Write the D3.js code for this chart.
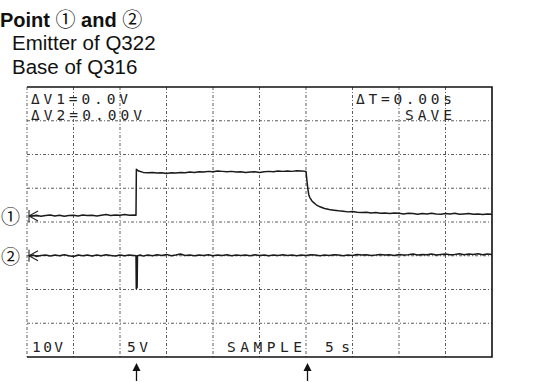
<!DOCTYPE html>
<html>
<head>
<meta charset="utf-8">
<script src="https://cdn.jsdelivr.net/npm/d3@7"></script>
<style>
  html, body { margin: 0; padding: 0; background: #fff; }
  svg { display: block; }
</style>
</head>
<body>
<script>
// ---- Oscilloscope capture: points 1 and 2 (emitter of Q322, base of Q316) ----

// Time base: 10 divisions at 5 s/div
const timeTicks = [0, 5, 10, 15, 20, 25, 30, 35, 40, 45, 50];
// Vertical graticule in divisions
const divTicks = [-4, -3, -2, -1, 0, 1, 2, 3, 4];

// Channel settings (volts per division, ground position in divisions)
const ch1VoltsPerDiv = 10;
const ch2VoltsPerDiv = 5;
const ch1Ground = 0.18;
const ch2Ground = -1.0;

// Channel 1 samples: [time s, volts]
const ch1Samples = [
  [0.3, 0.1], [0.5, 0.0], [1.0, 0.2], [1.5, -0.1], [2.0, 0.1], [2.5, 0.3], [3.0, 0.0], [3.5, 0.2],
  [4.0, -0.1], [4.5, 0.1], [5.0, 0.2], [5.5, 0.0], [6.0, 0.3], [6.5, 0.1], [7.0, 0.2], [7.5, 0.0],
  [8.0, 0.2], [8.5, 0.4], [9.0, 0.1], [9.5, 0.3], [10.0, 0.2], [10.5, 0.4], [11.0, 0.2], [11.5, 0.3],
  [11.72, 0.2], [11.76, 13.8], [12.0, 13.3], [12.5, 12.9], [13.0, 12.8], [13.5, 12.9], [14.0, 12.7],
  [14.5, 12.8], [15.0, 12.6], [15.5, 12.8], [16.0, 12.7], [16.5, 12.9], [17.0, 12.8], [17.5, 13.0],
  [18.0, 12.9], [18.5, 13.1], [19.0, 13.0], [19.5, 13.2], [20.0, 13.1], [20.5, 13.3], [21.0, 13.2],
  [21.5, 13.1], [22.0, 13.2], [22.5, 13.0], [23.0, 13.1], [23.5, 12.9], [24.0, 13.0], [24.5, 13.1],
  [25.0, 12.9], [25.5, 13.1], [26.0, 13.2], [26.5, 13.1], [27.0, 13.3], [27.5, 13.2], [28.0, 13.3],
  [28.5, 13.2], [29.0, 13.4], [29.5, 13.3], [30.0, 13.2], [30.1, 10.5], [30.2, 8.0], [30.3, 6.3],
  [30.4, 5.5], [30.6, 4.6], [30.8, 4.0], [31.1, 3.3], [31.5, 2.7], [32.0, 2.2], [32.5, 1.9],
  [33.0, 1.7], [33.5, 1.5], [34.0, 1.4], [34.5, 1.2], [35.0, 1.3], [35.5, 1.1], [36.0, 1.0],
  [36.5, 1.1], [37.0, 0.9], [37.5, 1.0], [38.0, 0.8], [38.5, 0.9], [39.0, 0.7], [39.5, 0.9],
  [40.0, 0.8], [40.5, 0.6], [41.0, 0.8], [41.5, 0.7], [42.0, 0.5], [42.5, 0.7], [43.0, 0.6],
  [43.5, 0.8], [44.0, 0.6], [44.5, 0.5], [45.0, 0.7], [45.5, 0.6], [46.0, 0.8], [46.5, 0.5],
  [47.0, 0.6], [47.5, 0.7], [48.0, 0.5], [48.5, 0.6], [49.0, 0.4], [49.5, 0.6], [50.0, 0.5]
];

// Channel 2 samples: [time s, volts]
const ch2Samples = [
  [0.3, 0.0], [0.7, 0.1], [1.0, -0.1], [1.5, 0.05], [2.0, 0.1], [2.5, -0.05], [3.0, 0.1], [3.5, 0.0],
  [4.0, 0.15], [4.5, 0.0], [5.0, -0.1], [5.5, 0.1], [6.0, 0.0], [6.5, 0.1], [7.0, -0.05], [7.5, 0.1],
  [8.0, 0.0], [8.5, 0.15], [9.0, 0.05], [9.5, -0.05], [10.0, 0.1], [10.5, 0.0], [11.0, 0.1],
  [11.5, 0.05], [11.72, 0.0], [11.75, -4.9], [11.84, -4.7], [11.88, 0.0], [12.2, 0.1], [12.5, -0.05],
  [13.0, 0.1], [13.5, 0.0], [14.0, 0.15], [14.5, 0.05], [15.0, 0.2], [15.5, 0.0], [16.0, 0.1],
  [16.5, 0.25], [17.0, 0.05], [17.5, 0.1], [18.0, 0.0], [18.5, 0.1], [19.0, 0.05], [19.5, 0.15],
  [20.0, 0.0], [20.5, 0.1], [21.0, 0.05], [21.5, 0.15], [22.0, 0.0], [22.5, 0.1], [23.0, 0.05],
  [23.5, 0.1], [24.0, 0.0], [24.5, 0.15], [25.0, 0.05], [25.5, 0.1], [26.0, 0.0], [26.5, 0.1],
  [27.0, 0.05], [27.5, 0.15], [28.0, 0.05], [28.5, 0.1], [29.0, 0.0], [29.5, 0.1], [30.0, 0.05],
  [30.5, 0.15], [31.0, 0.1], [31.5, 0.0], [32.0, 0.1], [32.5, 0.05], [33.0, 0.15], [33.5, 0.1],
  [34.0, 0.0], [34.5, 0.1], [35.0, 0.05], [35.5, 0.2], [36.0, 0.1], [36.5, 0.15], [37.0, 0.05],
  [37.5, 0.1], [38.0, 0.2], [38.5, 0.1], [39.0, 0.15], [39.5, 0.05], [40.0, 0.2], [40.5, 0.1],
  [41.0, 0.15], [41.5, 0.25], [42.0, 0.1], [42.5, 0.2], [43.0, 0.15], [43.5, 0.25], [44.0, 0.1],
  [44.5, 0.2], [45.0, 0.25], [45.5, 0.15], [46.0, 0.2], [46.5, 0.3], [47.0, 0.15], [47.5, 0.25],
  [48.0, 0.2], [48.5, 0.3], [49.0, 0.15], [49.5, 0.25], [50.0, 0.2]
];

// On-screen readouts
const readoutLeft = ["\u0394V1=0.0V", "\u0394V2=0.00V"];
const readoutRight = ["\u0394T=0.00s", "SAVE"];
const bottomLabels = ["10V", "5V", "SAMPLE", "5s"];
const channelMarks = ["\u2460", "\u2461"];
// Times of the two events pointed at below the screen
const eventTimes = [11.75, 30.1];

const W = 541, H = 382;
const svg = d3.select("body").append("svg").attr("width", W).attr("height", H);
svg.append("rect").attr("width", W).attr("height", H).attr("fill", "#fff");

const x = d3.scaleLinear().domain([0, 50]).range([27, 492]);
const y = d3.scaleLinear().domain([-4, 4]).range([357, 87]);

// ---- Heading ----
const hFont = "'Liberation Sans', Arial, Helvetica, sans-serif";
const cjk = "'Noto Sans CJK JP', 'Noto Sans CJK SC', sans-serif";
const head = svg.append("text").attr("x", 0).attr("y", 27)
  .attr("font-family", hFont).attr("font-size", 20).attr("fill", "#111");
head.append("tspan").attr("font-weight", "bold").text("Point ");
head.append("tspan").attr("font-family", cjk).attr("font-size", 20).text(channelMarks[0]);
head.append("tspan").attr("font-weight", "bold").text(" and ");
head.append("tspan").attr("font-family", cjk).attr("font-size", 20).text(channelMarks[1]);
svg.append("text").attr("x", 12).attr("y", 50).attr("font-family", hFont)
  .attr("font-size", 20.5).attr("fill", "#111").text("Emitter of Q322");
svg.append("text").attr("x", 12).attr("y", 74).attr("font-family", hFont)
  .attr("font-size", 20.5).attr("fill", "#111").text("Base of Q316");

// ---- Graticule ----
const grid = svg.append("g").attr("stroke", "#4a4a4a").attr("stroke-width", 0.9)
  .attr("stroke-dasharray", "3 2 1 2").attr("fill", "none");
grid.selectAll("line.v").data(timeTicks.slice(0, -1)).join("line")
  .attr("x1", d => x(d)).attr("x2", d => x(d))
  .attr("y1", y(4)).attr("y2", y(-4));
grid.selectAll("line.h").data(divTicks.slice(1, -1)).join("line")
  .attr("x1", x(0)).attr("x2", x(50))
  .attr("y1", d => y(d)).attr("y2", d => y(d));

// Solid border on top, right and bottom
const frame = svg.append("g").attr("stroke", "#111").attr("stroke-width", 1.6).attr("fill", "none");
frame.append("path").attr("d", `M${x(0)},${y(4)}H${x(50)}V${y(-4)}H${x(0)}`);

// ---- Traces ----
const line1 = d3.line().x(d => x(d[0])).y(d => y(ch1Ground + d[1] / ch1VoltsPerDiv));
const line2 = d3.line().x(d => x(d[0])).y(d => y(ch2Ground + d[1] / ch2VoltsPerDiv));
svg.append("path").datum(ch1Samples).attr("d", line1)
  .attr("fill", "none").attr("stroke", "#1a1a1a").attr("stroke-width", 1.5).attr("stroke-linejoin", "round");
svg.append("path").datum(ch2Samples).attr("d", line2)
  .attr("fill", "none").attr("stroke", "#1a1a1a").attr("stroke-width", 1.5).attr("stroke-linejoin", "round");

// Ground markers and channel numbers at the left edge
const grounds = [ch1Ground, ch2Ground];
grounds.forEach((g, i) => {
  const gy = y(g);
  const gx = x(0) + 2;
  svg.append("path")
    .attr("d", `M${gx},${gy - 6}V${gy + 6}M${gx + 9},${gy - 5}L${gx},${gy}L${gx + 9},${gy + 5}M${gx},${gy}H${gx + 10}`)
    .attr("fill", "none").attr("stroke", "#222").attr("stroke-width", 1.1);
  svg.append("text").attr("x", 10.5).attr("y", gy).attr("text-anchor", "middle")
    .attr("dominant-baseline", "central").attr("font-family", cjk).attr("font-size", 19)
    .attr("fill", "#111").text(channelMarks[i]);
});

// ---- Readouts ----
const mono = "'DejaVu Sans Mono', 'Liberation Mono', monospace";
function readout(txt, px, py, len) {
  svg.append("text").attr("x", px).attr("y", py)
    .attr("font-family", mono).attr("font-size", 14.5).attr("fill", "#222")
    .attr("textLength", len).attr("lengthAdjust", "spacing").text(txt);
}
readout(readoutLeft[0], 31, 104, 97);
readout(readoutLeft[1], 31, 120, 111);
readout(readoutRight[0], 356, 104, 96);
readout(readoutRight[1], 405, 120, 47);
readout(bottomLabels[0], 32, 352, 31);
readout(bottomLabels[1], 127, 352, 21);
readout(bottomLabels[2], 227, 352, 75);
readout(bottomLabels[3], 325, 352, 25);

// ---- Event arrows under the screen ----
eventTimes.forEach(t => {
  const ax = Math.round(x(t)) + 0.5;
  svg.append("line").attr("x1", ax).attr("x2", ax).attr("y1", 381).attr("y2", 368)
    .attr("stroke", "#111").attr("stroke-width", 1.3);
  svg.append("path").attr("d", `M${ax},${363}L${ax - 4},${371}L${ax + 4},${371}Z`).attr("fill", "#111");
});
</script>
</body>
</html>
